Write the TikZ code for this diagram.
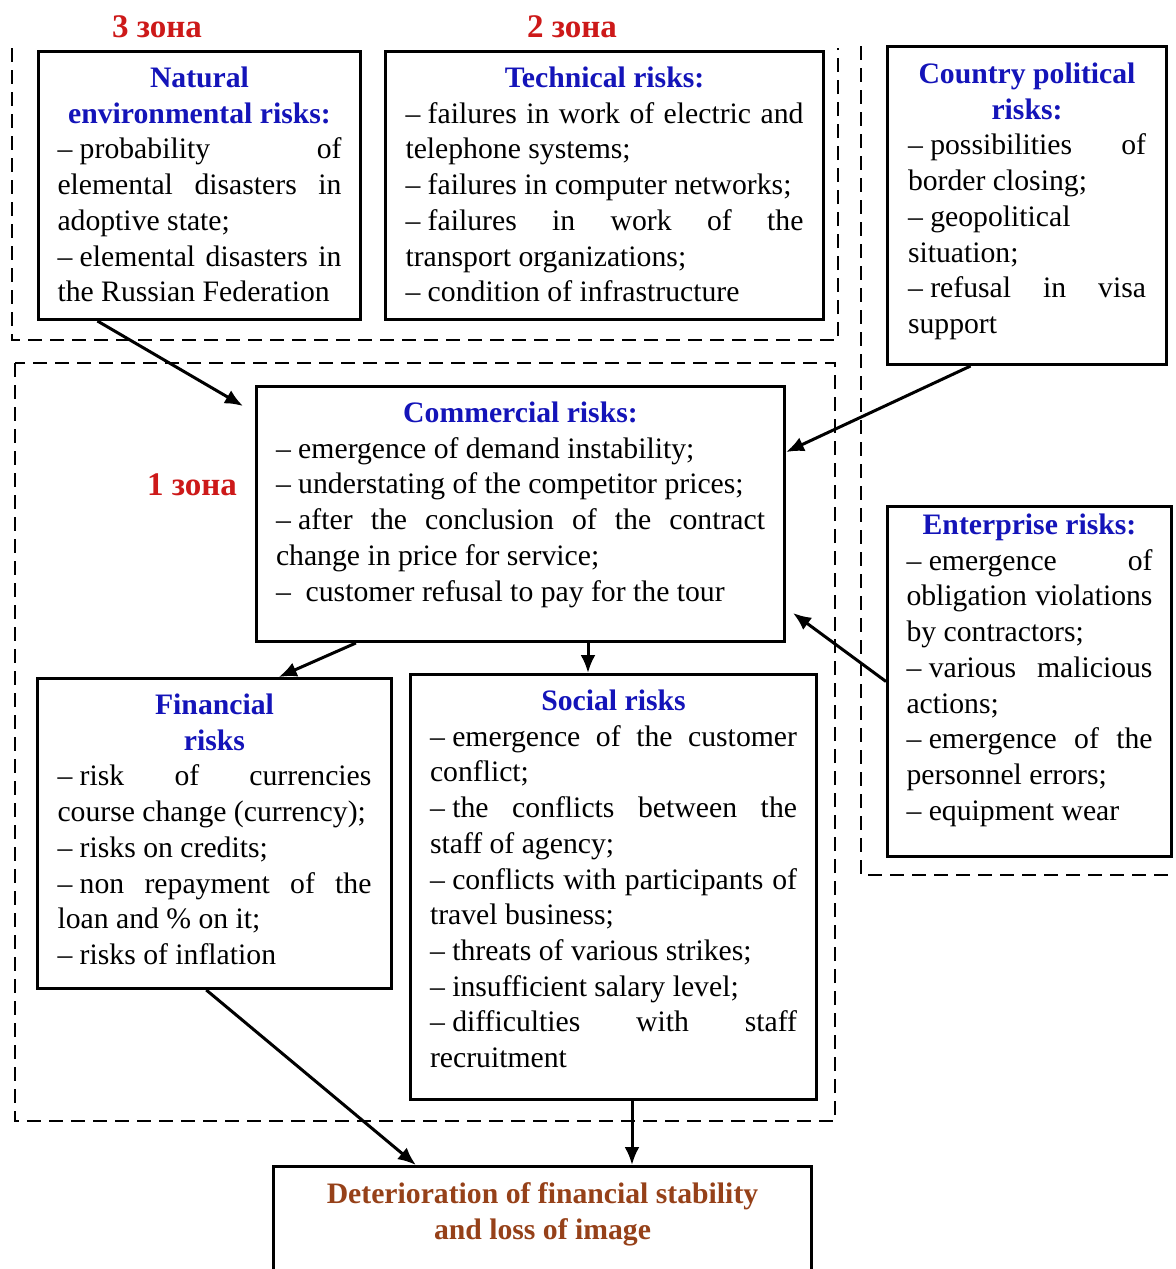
\documentclass[tikz,border=0pt]{standalone}
\usepackage{fontspec}
\setmainfont{Liberation Serif}
\usetikzlibrary{arrows.meta,calc}
\definecolor{ttlblue}{RGB}{20,20,185}
\definecolor{zonered}{RGB}{205,25,25}
\definecolor{browntxt}{RGB}{150,65,25}
\newcommand\jl[1]{\makebox[\linewidth][s]{#1}\\}
\newcommand\dsh{–\hspace{0.25em}}
\newcommand\ttl[1]{{\leavevmode\bfseries\color{ttlblue}#1}}
\newcommand\bodysz{\fontsize{14.85pt}{17.85pt}\selectfont}
\newcommand\fr[1]{\rule{0pt}{#1}}
\tikzset{
  rbox/.style={draw, line width=1.5pt, inner ysep=0pt, anchor=north west, font=\bodysz},
  zone/.style={font=\fontsize{16.5pt}{19pt}\selectfont\bfseries, text=zonered, inner sep=0pt},
  zonebd/.style={line width=1.3pt, dash pattern=on 7pt off 4pt},
  arr/.style={line width=1.5pt, -{Latex[length=9pt,width=7.5pt]}}
}
\begin{document}
\begin{tikzpicture}[x=0.5pt,y=-0.5pt]
\useasboundingbox[fill=white] (0,0) rectangle (1176,1269);
% dashed zones
\draw[zonebd] (12,48) -- (12,340) -- (838,340) -- (838,48);
\draw[zonebd] (15,363) rectangle (835,1121);
\draw[zonebd] (861,46) -- (861,875) -- (1180,875);
% zone labels
\node[zone] (z3) at (157,27) {3 зона};
\node[zone] (z2) at (572,27) {2 зона};
\node[zone] (z1) at (192,485) {1 зона};
% boxes
\node[rbox, inner xsep=9.5pt] (nat) at (37,50) {\begin{minipage}[t][134pt][t]{142pt}
\centering\ttl{\fr{18pt}Natural\\environmental risks:}\par
\raggedright
\jl{\dsh probability of}
\jl{elemental disasters in}
adoptive state;\\
\jl{\dsh elemental disasters in}
the Russian Federation
\end{minipage}};
\node[rbox, inner xsep=10pt] (tec) at (384,50) {\begin{minipage}[t][134pt][t]{199pt}
\centering\ttl{\fr{18pt}Technical risks:}\par
\raggedright
\jl{\dsh failures in work of electric and}
telephone systems;\\
\dsh failures in computer networks;\\
\jl{\dsh failures in work of the}
transport organizations;\\
\dsh condition of infrastructure
\end{minipage}};
\node[rbox, inner xsep=10.25pt] (cty) at (886,45) {\begin{minipage}[t][159pt][t]{119pt}
\centering\ttl{\fr{18.5pt}Country political\\risks:}\par
\raggedright
\jl{\dsh possibilities of}
border closing;\\
\dsh geopolitical\\
situation;\\
\jl{\dsh refusal in visa}
support
\end{minipage}};
\node[rbox, inner xsep=9.75pt] (com) at (255,385) {\begin{minipage}[t][127.5pt][t]{244.5pt}
\centering\ttl{\fr{18pt}Commercial risks:}\par
\raggedright
\dsh emergence of demand instability;\\
\dsh understating of the competitor prices;\\
\jl{\dsh after the conclusion of the contract}
change in price for service;\\
–\ \ customer refusal to pay for the tour
\end{minipage}};
\node[rbox, inner xsep=9.5pt] (ent) at (886,505) {\begin{minipage}[t][175pt][t]{123pt}
\centering\ttl{\fr{14pt}Enterprise risks:}\par
\raggedright
\jl{\dsh emergence of}
\jl{obligation violations}
by contractors;\\
\jl{\dsh various malicious}
actions;\\
\jl{\dsh emergence of the}
personnel errors;\\
\dsh equipment wear
\end{minipage}};
\node[rbox, inner xsep=10pt] (fin) at (36,677) {\begin{minipage}[t][155pt][t]{157pt}
\centering\ttl{\fr{18pt}Financial\\risks}\par
\raggedright
\jl{\dsh risk of currencies}
course change (currency);\\
\dsh risks on credits;\\
\jl{\dsh non repayment of the}
loan and \% on it;\\
\dsh risks of inflation
\end{minipage}};
\node[rbox, inner xsep=9.75pt] (soc) at (409,673) {\begin{minipage}[t][212.5pt][t]{183.5pt}
\centering\ttl{\fr{18pt}Social risks}\par
\raggedright
\jl{\dsh emergence of the customer}
conflict;\\
\jl{\dsh the conflicts between the}
staff of agency;\\
\jl{\dsh conflicts with participants of}
travel business;\\
\dsh threats of various strikes;\\
\dsh insufficient salary level;\\
\jl{\dsh difficulties with staff}
recruitment
\end{minipage}};
\node[rbox, inner xsep=9.5pt] (det) at (272,1165) {\begin{minipage}[t][65pt][t]{250pt}
\centering{\leavevmode\bfseries\color{browntxt}\fr{18.5pt}Deterioration of financial stability\\and loss of image}\par
\end{minipage}};
% connectors
\draw[arr] ($(nat.south west)!0.186!(nat.south east)$) -- ($(com.north west)+(-12,21)$);
\draw[arr] ($(cty.south west)!0.30!(cty.south east)$) -- ($(com.north east)!0.26!(com.south east)$);
\draw[arr] (ent.west) -- ($(com.south east)+(7,-30)$);
\draw[arr] ($(com.south west)!0.19!(com.south east)$) -- ($(fin.north west)!0.68!(fin.north east)$);
\coordinate (cs) at ($(com.south west)+(333,0)$);
\draw[arr] (cs) -- (cs |- soc.north);
\draw[arr] ($(fin.south west)!0.477!(fin.south east)$) -- ($(det.north west)!0.266!(det.north east)$);
\coordinate (sd) at ($(soc.south west)+(223,0)$);
\draw[arr] (sd) -- (sd |- det.north);
\end{tikzpicture}
\end{document}
